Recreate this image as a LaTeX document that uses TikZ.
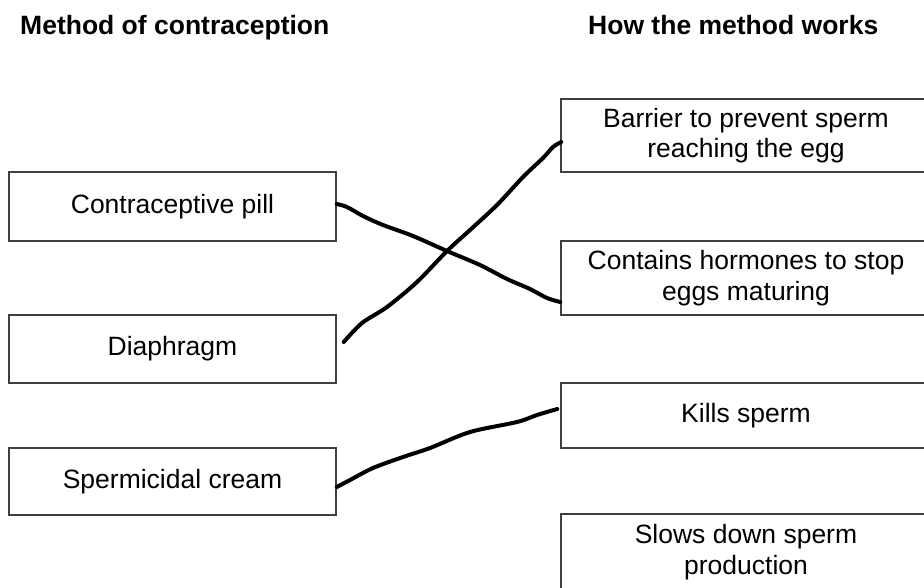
\documentclass[tikz,border=0pt]{standalone}
\usepackage{fontspec}
\setmainfont{Liberation Sans}
\begin{document}
\begin{tikzpicture}[x=1pt,y=-1pt,
  lbox/.style={draw=black!75, line width=1.5pt, minimum width=327pt, inner sep=0pt,
    align=center, font=\fontsize{26.5}{30.5}\selectfont},
  rbox/.style={lbox, minimum width=370pt},
  head/.style={anchor=base west, inner sep=0pt, font=\bfseries\fontsize{26.5}{30}\selectfont},
  wire/.style={line width=4pt, line cap=round, line join=round}]
\useasboundingbox (0,0) rectangle (924,587);
\clip (0,0) rectangle (924,587);
\fill[white] (0,0) rectangle (924,587);

\node[head] (h1) at (20,34) {Method of contraception};
\node[head] (h2) at (588,34) {How the method works};

\node[lbox, minimum height=69pt] (pill) at (172.5,206.5) {Contraceptive pill};
\node[lbox, minimum height=68pt] (diaph) at (172.5,349) {Diaphragm};
\node[lbox, minimum height=67pt] (cream) at (172.5,481.5) {Spermicidal cream};

\node[rbox, minimum height=73pt] (barrier) at (746,135.5) {Barrier to prevent sperm\\reaching the egg};
\node[rbox, minimum height=74pt] (horm) at (746,278) {Contains hormones to stop\\eggs maturing};
\node[rbox, minimum height=65pt] (kills) at (746,415.5) {Kills sperm};
\node[rbox, minimum height=76pt] (slows) at (746,552) {Slows down sperm\\production};

\draw[wire] plot[smooth, tension=0.5] coordinates {([yshift=2.5pt]pill.east) (347,207) (363,216) (383,225) (413,236) (447,251) (480,265) (507,279) (530,289) (547,298) ([yshift=-24pt]horm.west)};
\draw[wire] plot[smooth, tension=0.5] coordinates {([xshift=7pt,yshift=7pt]diaph.east) (362,323) (387,307) (417,282) (447,251) (470,230) (497,205) (523,177) (543,158) (553,147) ([xshift=1pt,yshift=-6.5pt]barrier.west)};
\draw[wire] plot[smooth, tension=0.5] coordinates {([yshift=-5.5pt]cream.east) (350,480) (373,468) (403,457) (430,448) (470,432) (517,422) (537,415) ([xshift=-3pt,yshift=6.5pt]kills.west)};
\end{tikzpicture}
\end{document}
